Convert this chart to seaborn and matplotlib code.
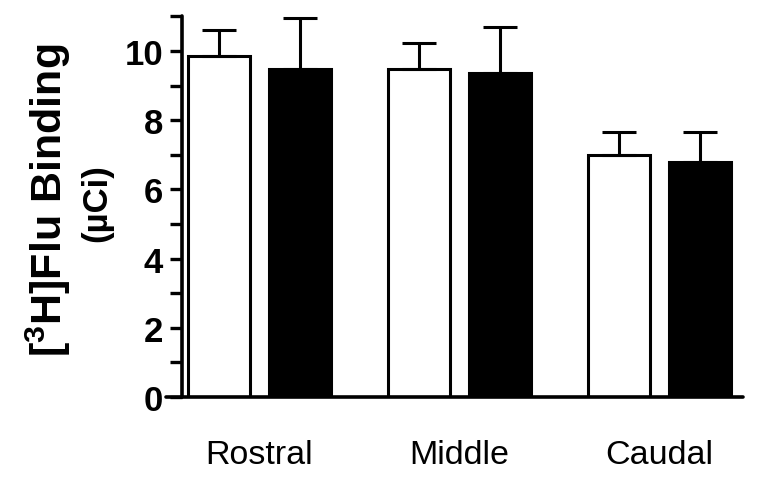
import matplotlib
matplotlib.use("Agg")
import matplotlib.pyplot as plt
import seaborn as sns
import pandas as pd
import numpy as np

# ---- data ----
regions = ["Rostral", "Middle", "Caudal"]
groups = ["Group 1", "Group 2"]
means_g1 = [9.85, 9.48, 7.00]
means_g2 = [9.48, 9.36, 6.80]
sem_g1 = [0.76, 0.76, 0.65]
sem_g2 = [1.47, 1.32, 0.87]
yticks_major = [0, 2, 4, 6, 8, 10]
yticks_minor = [1, 3, 5, 7, 9, 11]

df = pd.DataFrame({
    "region": regions * 2,
    "group": [groups[0]] * 3 + [groups[1]] * 3,
    "value": means_g1 + means_g2,
})
errs = {groups[0]: sem_g1, groups[1]: sem_g2}

sns.set_style("ticks")
plt.rcParams["font.family"] = ["Liberation Sans", "DejaVu Sans"]
plt.rcParams["mathtext.fontset"] = "custom"
plt.rcParams["mathtext.bf"] = "Liberation Sans:bold"
plt.rcParams["mathtext.rm"] = "Liberation Sans:bold"
for k in ["text.color", "axes.labelcolor", "xtick.color", "ytick.color",
          "axes.edgecolor"]:
    plt.rcParams[k] = "black"

fig = plt.figure(figsize=(7.6, 4.85), dpi=100)
ax = fig.add_axes([0.2184, 0.1794, 0.7592, 0.7847])

sns.barplot(data=df, x="region", y="value", hue="group", order=regions,
            hue_order=groups, palette=["white", "black"], width=0.815,
            gap=0.24, edgecolor="black", linewidth=2.2, errorbar=None,
            legend=False, ax=ax)

for cont, g in zip(ax.containers, groups):
    for bar, e in zip(cont, errs[g]):
        xc = bar.get_x() + bar.get_width() / 2
        h = bar.get_height()
        ax.errorbar([xc], [h], yerr=[[0], [e]], fmt="none", ecolor="black",
                    elinewidth=2.2, capsize=12.2, capthick=2.2, zorder=1)

for s in ["top", "right"]:
    ax.spines[s].set_visible(False)
ax.spines["left"].set_position(("data", -0.389))
ax.spines["left"].set_bounds(0, 11)
for s in ["left", "bottom"]:
    ax.spines[s].set_linewidth(2.6)
    ax.spines[s].set_color("black")
    ax.spines[s].set_capstyle("round")

ax.set_xlim(-0.4675, 2.4175)
ax.set_ylim(0, 11)
ax.set_yticks(yticks_major)
ax.set_yticks(yticks_minor, minor=True)
ax.set_yticklabels([str(t) for t in yticks_major])
ax.set_xticks(range(len(regions)))
ax.set_xticklabels(regions)
ax.tick_params(axis="y", which="both", length=8.3, width=2.4, pad=5,
               color="black", labelsize=25, labelcolor="black")
ax.tick_params(axis="x", length=0, pad=30, labelsize=24.5, labelcolor="black")
for lab in ax.get_yticklabels():
    lab.set_fontweight("bold")
ax.set_xlabel("")
ax.set_ylabel("")

fig.text(62 / 760, 1 - 200.5 / 485, r"[$^{3}$H]Flu Binding", rotation=90,
         rotation_mode="anchor", ha="center", va="baseline", fontsize=31,
         fontweight="bold")
fig.text(106 / 760, 1 - 203 / 485, "(\u00b5Ci)", rotation=90,
         rotation_mode="anchor", ha="center", va="baseline", fontsize=25,
         fontweight="bold")

fig.savefig("out.png", dpi=100)
